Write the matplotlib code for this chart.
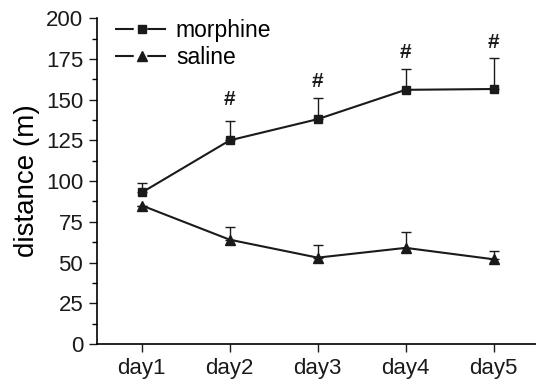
import matplotlib
matplotlib.use('Agg')

import numpy as np
import matplotlib.pyplot as plt
from matplotlib.ticker import MultipleLocator
from matplotlib.lines import Line2D

plt.rcParams['font.family'] = ['Liberation Sans', 'DejaVu Sans']

days = ['day1', 'day2', 'day3', 'day4', 'day5']
morphine = [93, 125, 138, 156, 156.5]
morphine_err = [6, 12, 13, 13, 19]
saline = [85, 64, 53, 59, 52]
saline_err = [0, 8, 8, 10, 5]
sig_marks = ['', '#', '#', '#', '#']
sig_y = [0, 144, 155, 173, 179]

x = np.arange(1, len(days) + 1)
ink = '#1a1a1a'

fig = plt.figure(figsize=(5.36, 3.82), dpi=100)
ax = fig.add_axes([0.181, 0.0995, 0.83, 0.853])

ax.errorbar(x, morphine, yerr=[np.zeros(5), morphine_err], color=ink,
            marker='s', markersize=6, lw=1.5, elinewidth=1, capsize=3.5,
            capthick=1)
ax.errorbar(x, saline, yerr=[np.zeros(5), saline_err], color=ink,
            marker='^', markersize=7, lw=1.5, elinewidth=1, capsize=3.5,
            capthick=1)

for xi, s, yi in zip(x, sig_marks, sig_y):
    if s:
        ax.text(xi, yi, s, ha='center', va='bottom', fontsize=15,
                fontweight='bold', color=ink)

ax.set_xlim(0.49, 5.55)
ax.set_ylim(0, 200)
ax.set_xticks(x)
ax.set_xticklabels(days)
ax.yaxis.set_major_locator(MultipleLocator(25))
ax.yaxis.set_minor_locator(MultipleLocator(12.5))
ax.tick_params(axis='both', direction='out', labelsize=16, length=6,
               width=1, colors=ink, pad=4)
ax.tick_params(axis='y', which='minor', direction='out', length=3.5, width=1)
ax.spines['top'].set_visible(False)
ax.spines['right'].set_visible(False)
ax.spines['left'].set_linewidth(1.2)
ax.spines['bottom'].set_linewidth(1.2)

ax.set_ylabel('distance (m)', fontsize=20, labelpad=4)

# legend: line - marker - line with a gap round the marker
gap_dash = (9.0, 6.5, 9.0, 60)
handles = []
for m, ms in [('s', 6), ('^', 7)]:
    seg = Line2D([], [], color=ink, lw=1.5, dashes=gap_dash)
    mk = Line2D([], [], color=ink, lw=0, marker=m, markersize=ms)
    handles.append((seg, mk))
ax.legend(handles, ['morphine', 'saline'], loc='upper left', frameon=False,
          fontsize=16.5, handlelength=2.3, handletextpad=0.35,
          labelspacing=0.15, borderaxespad=0.1,
          bbox_to_anchor=(0.015, 1.032))

fig.savefig('out.png', dpi=100)
